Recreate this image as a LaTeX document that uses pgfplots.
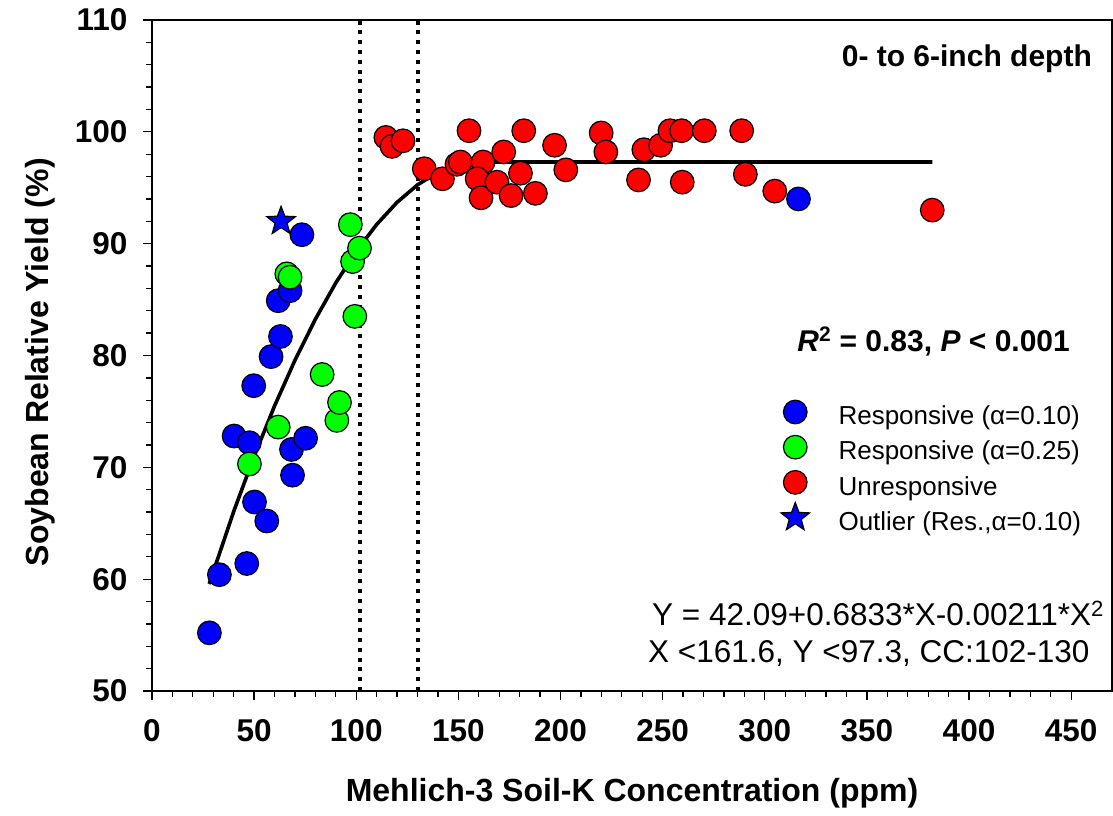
\documentclass[border=0pt]{standalone}
\usepackage{fontspec}
\setmainfont{Liberation Sans}
\usepackage{pgfplots}
\usepackage{pgfplotstable}
\pgfplotsset{compat=1.18}

% filled five-pointed star mark
\pgfdeclareplotmark{fivestar}{%
  \pgfpathmoveto{\pgfpointpolar{90}{\pgfplotmarksize}}%
  \pgfpathlineto{\pgfpointpolar{126}{0.42\pgfplotmarksize}}%
  \pgfpathlineto{\pgfpointpolar{162}{\pgfplotmarksize}}%
  \pgfpathlineto{\pgfpointpolar{198}{0.42\pgfplotmarksize}}%
  \pgfpathlineto{\pgfpointpolar{234}{\pgfplotmarksize}}%
  \pgfpathlineto{\pgfpointpolar{270}{0.42\pgfplotmarksize}}%
  \pgfpathlineto{\pgfpointpolar{306}{\pgfplotmarksize}}%
  \pgfpathlineto{\pgfpointpolar{342}{0.42\pgfplotmarksize}}%
  \pgfpathlineto{\pgfpointpolar{18}{\pgfplotmarksize}}%
  \pgfpathlineto{\pgfpointpolar{54}{0.42\pgfplotmarksize}}%
  \pgfpathclose
  \pgfusepathqfillstroke}

% Responsive sites, alpha = 0.10
\pgfplotstableread{
x y
28.1 55.2
33.0 60.4
46.4 61.4
50.2 66.9
56.2 65.2
68.8 69.3
68.3 71.6
40.2 72.8
47.7 72.2
75.2 72.6
49.8 77.3
58.3 79.9
62.9 81.7
61.8 84.9
67.6 85.8
73.4 90.8
316.5 94.0
}\resA

% Responsive sites, alpha = 0.25
\pgfplotstableread{
x y
47.7 70.3
61.8 73.6
90.5 74.2
91.8 75.8
83.3 78.3
99.3 83.5
66.0 87.3
67.6 87.0
98.2 88.4
101.6 89.6
97.1 91.7
}\resB

% Unresponsive sites
\pgfplotstableread{
x y
114.5 99.5
117.5 98.7
122.9 99.2
133.3 96.7
142.2 95.8
155.2 100.1
149.3 97.1
151.0 97.3
162.1 97.3
159.2 95.8
161.1 94.1
172.2 98.2
168.9 95.5
175.8 94.3
180.4 96.3
182.0 100.1
187.7 94.5
197.1 98.8
202.6 96.6
219.9 99.9
222.2 98.2
238.2 95.7
240.8 98.4
249.0 98.8
253.6 100.1
259.3 100.1
259.6 95.5
270.4 100.1
288.7 100.1
290.5 96.2
304.9 94.7
382.0 93.0
}\unres

% Quadratic-plateau fit: Y = 42.09 + 0.6833 X - 0.00211 X^2, plateau 97.3
\pgfplotstableread{
x y
28 59.57
40 66.05
50 70.98
60 75.49
70 79.58
80 83.25
90 86.50
100 89.32
110 91.72
120 93.70
130 95.26
140 96.40
150 97.11
156 97.28
161.6 97.30
382 97.30
}\fit

\begin{document}
\begin{tikzpicture}
\path[use as bounding box] (-152pt,-124pt) rectangle (961pt,691pt);
\begin{axis}[
  at={(0pt,0pt)}, anchor=south west,
  scale only axis, width=960pt, height=671pt,
  xmin=0, xmax=470, ymin=50, ymax=110,
  xtick={0,50,...,450}, ytick={50,60,...,110},
  minor x tick num=4, minor y tick num=4,
  tick align=outside, xtick pos=bottom, ytick pos=left,
  major tick length=9pt, minor tick length=6pt,
  every tick/.style={black, line width=1.3pt},
  axis line style={black, line width=1.5pt},
  /pgf/number format/assume math mode=true,
  ticklabel style={font=\bfseries\fontsize{31.5}{34}\selectfont},
  xticklabel style={yshift=-16pt},
  yticklabel style={xshift=-12pt},
  xlabel={Mehlich-3 Soil-K Concentration (ppm)},
  ylabel={Soybean Relative Yield (\%)},
  label style={font=\bfseries\fontsize{32}{34}\selectfont},
  xlabel style={at={(axis description cs:0.5,-0.152)}, anchor=center},
  ylabel style={at={(axis description cs:-0.1167,0.49)}, anchor=center},
  legend style={draw=none, fill=none, inner sep=0pt, outer sep=0pt,
    at={(axis description cs:0.6552,0.4471)}, anchor=north west,
    font=\fontsize{26}{28}\selectfont, column sep=29pt, row sep=0pt,
    nodes={inner sep=0pt, outer sep=0pt}},
  legend cell align=left,
  lg/.style={legend image code/.code={%
    \path[draw=none, fill=none] (-14pt,-8pt) rectangle (14pt,25pt);
    \draw[##1] plot coordinates {(0pt,4pt)};}},
  mark options={line width=1.2pt, draw=black},
]
\addplot[only marks, mark=*, mark size=11.8pt, fill=blue, lg] table {\resA};
\addlegendentry{Responsive (α=0.10)}
\addplot[only marks, mark=*, mark size=11.8pt, fill=green, lg] table {\resB};
\addlegendentry{Responsive (α=0.25)}
\addplot[only marks, mark=*, mark size=11.8pt, fill=red, lg] table {\unres};
\addlegendentry{Unresponsive}
\addplot[only marks, mark=fivestar, mark size=15pt, fill=blue,
  mark options={fill=blue, draw=black, line width=1.2pt}, lg] coordinates {(63.2,92.0)};
\addlegendentry{Outlier (Res.,α=0.10)}

% fitted response curve
\addplot[black, line width=3.6pt, no marks, forget plot] table {\fit};
% critical concentration range
\addplot[black, line width=4pt, dash pattern=on 4pt off 5.8pt, forget plot] coordinates {(102,50) (102,110)};
\addplot[black, line width=4pt, dash pattern=on 4pt off 5.8pt, forget plot] coordinates {(130,50) (130,110)};

\node[anchor=base east, inner sep=0pt, font=\bfseries\fontsize{30}{32}\selectfont]
  at (axis description cs:0.9792,0.9314) {0- to 6-inch depth};
\node[anchor=base east, inner sep=0pt, font=\bfseries\fontsize{30}{32}\selectfont]
  at (axis description cs:0.9563,0.5067) {\textit{R}\textsuperscript{2} = 0.83, \textit{P} < 0.001};
\node[anchor=base west, inner sep=0pt, font=\fontsize{31.5}{34}\selectfont]
  at (axis description cs:0.5208,0.0969) {Y = 42.09+0.6833*X-0.00211*X\textsuperscript{2}};
\node[anchor=base west, inner sep=0pt, font=\fontsize{31.5}{34}\selectfont]
  at (axis description cs:0.5167,0.0432) {X <161.6, Y <97.3, CC:102-130};
\end{axis}
\end{tikzpicture}
\end{document}
